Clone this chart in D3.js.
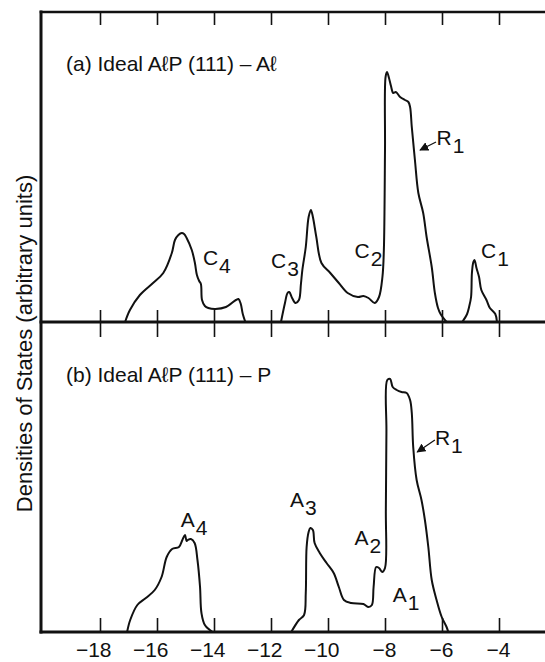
<!DOCTYPE html>
<html><head><meta charset="utf-8">
<script src="https://cdn.jsdelivr.net/npm/d3@7"></script>
<style>
body{margin:0;background:#fff}
text{font-family:"Liberation Sans",Arial,Helvetica,sans-serif;fill:#111}
</style>
</head><body><svg id="c" width="545" height="662"></svg>
<script>
// ---- data ----
const energyTicks = [-18, -16, -14, -12, -10, -8, -6, -4];
const tickLabels = ["\u221218", "\u221216", "\u221214", "\u221212", "\u221210", "\u22128", "\u22126", "\u22124"];

// Panel (a): Al-projected DOS, [energy (eV), DOS (arb.)]
const alC4 = [[-17.12,0],[-16.95,12],[-16.60,27],[-16.14,39],[-15.78,49],[-15.48,69],[-15.37,82],[-15.25,87],[-15.13,89],[-15.05,88],[-14.96,84],[-14.78,72],[-14.67,59],[-14.60,47],[-14.52,41],[-14.46,38],[-14.42,22],[-14.32,16],[-14.20,14],[-13.95,13],[-13.58,15],[-13.23,22],[-13.14,23],[-13.06,18],[-12.99,8],[-12.90,0]];
const alC3R1 = [[-11.65,0],[-11.51,19],[-11.42,29],[-11.36,30],[-11.26,24],[-11.14,19],[-11.02,22],[-10.95,38],[-10.90,52],[-10.78,75],[-10.68,105],[-10.60,112],[-10.53,105],[-10.41,85],[-10.23,59],[-9.92,49],[-9.62,39],[-9.31,29],[-8.95,25],[-8.76,26],[-8.58,24],[-8.36,19],[-8.21,25],[-8.09,45],[-8.04,72],[-8.00,172],[-7.98,245],[-7.93,250],[-7.86,244],[-7.79,236],[-7.71,229],[-7.62,230],[-7.47,225],[-7.30,222],[-7.18,220],[-7.12,215],[-7.06,195],[-6.95,162],[-6.83,129],[-6.66,109],[-6.54,85],[-6.36,55],[-6.25,29],[-6.14,14],[-6.05,8],[-5.84,0]];
const alC1 = [[-5.29,0],[-5.12,8],[-5.05,15],[-4.98,25],[-4.95,49],[-4.90,60],[-4.86,62],[-4.79,54],[-4.70,45],[-4.62,32],[-4.44,22],[-4.32,14],[-4.13,8],[-4.07,0]];

// Panel (b): P-projected DOS
const pA4 = [[-17.05,0],[-16.94,12],[-16.69,27],[-16.39,34],[-16.08,42],[-15.84,55],[-15.66,75],[-15.47,83],[-15.23,85],[-15.11,92],[-15.02,97],[-14.96,91],[-14.92,92],[-14.81,93],[-14.68,89],[-14.58,72],[-14.49,45],[-14.44,19],[-14.32,7],[-14.05,0]];
const pA3R1 = [[-11.29,0],[-11.02,12],[-10.84,17],[-10.78,39],[-10.75,85],[-10.68,100],[-10.62,104],[-10.53,102],[-10.47,89],[-10.29,79],[-10.05,69],[-9.80,59],[-9.62,45],[-9.44,32],[-9.19,29],[-8.76,28],[-8.58,25],[-8.46,27],[-8.40,45],[-8.31,65],[-8.21,64],[-8.10,60],[-8.00,64],[-7.97,122],[-7.95,200],[-7.92,252],[-7.82,253],[-7.73,245],[-7.59,242],[-7.42,240],[-7.24,239],[-7.12,232],[-7.06,219],[-7.01,185],[-6.89,152],[-6.72,132],[-6.60,112],[-6.48,85],[-6.36,52],[-6.19,32],[-6.01,15],[-5.84,5],[-5.78,0]];

const seriesA = [alC4, alC3R1, alC1];
const seriesB = [pA4, pA3R1];

const labelsA = [["C","4",-14.39,57],["C","3",-12.0,54],["C","2",-9.07,64],["C","1",-4.63,64],["R","1",-6.19,177]];
const labelsB = [["A","4",-15.17,105],["A","3",-11.33,125],["A","2",-9.07,87],["A","1",-7.73,30],["R","1",-6.25,187]];
const arrowsA = [[[-6.21,180],[-6.77,172]]];
const arrowsB = [[[-6.25,192],[-6.87,180]]];

const titleA = "(a) Ideal A\u2113P (111) \u2013 A\u2113";
const titleB = "(b) Ideal A\u2113P (111) \u2013 P";
const yTitle = "Densities of States (arbitrary units)";

// ---- layout ----
const fr = {left:41, top:12, mid:322, bottom:632, right:545};
const svg = d3.select("#c");
const x = d3.scaleLinear().domain([-18,-4]).range([100,499]);
const yA = d3.scaleLinear().domain([0,310]).range([fr.mid, fr.top]);
const yB = d3.scaleLinear().domain([0,310]).range([fr.bottom, fr.mid]);
const ink = "#111";

svg.append("rect").attr("width",545).attr("height",662).attr("fill","#fff");

const defs = svg.append("defs");
defs.append("marker").attr("id","ah").attr("viewBox","0 0 10 10").attr("refX",9).attr("refY",5)
  .attr("markerWidth",7).attr("markerHeight",7).attr("orient","auto")
  .append("path").attr("d","M0,0 L10,5 L0,10 z").attr("fill",ink);

function styleAxis(g){
  g.select(".domain").remove();
  g.selectAll(".tick line").attr("stroke",ink).attr("stroke-width",1.6);
}
// ticks
svg.append("g").attr("transform",`translate(0,${fr.top})`)
  .call(d3.axisBottom(x).tickValues(energyTicks).tickSize(13).tickFormat("")).call(styleAxis);
svg.append("g").attr("transform",`translate(0,${fr.mid})`)
  .call(d3.axisTop(x).tickValues(energyTicks).tickSize(12).tickFormat("")).call(styleAxis);
svg.append("g").attr("transform",`translate(0,${fr.mid})`)
  .call(d3.axisBottom(x).tickValues(energyTicks).tickSize(15).tickFormat("")).call(styleAxis);
svg.append("g").attr("transform",`translate(0,${fr.bottom})`)
  .call(d3.axisTop(x).tickValues(energyTicks).tickSize(14).tickFormat("")).call(styleAxis);
const lab = svg.append("g").attr("transform",`translate(0,${fr.bottom})`)
  .call(d3.axisBottom(x).tickValues(energyTicks).tickSize(0).tickPadding(10).tickFormat((d,i)=>tickLabels[i]));
lab.select(".domain").remove();
lab.selectAll("text").attr("font-size",21).attr("font-family",null).attr("text-anchor","end").attr("dx",11).attr("fill",ink);

// frame
const fl = svg.append("g").attr("stroke",ink).attr("stroke-linecap","square");
fl.append("line").attr("x1",fr.left).attr("x2",fr.right).attr("y1",fr.top).attr("y2",fr.top).attr("stroke-width",2.6);
fl.append("line").attr("x1",fr.left).attr("x2",fr.right).attr("y1",fr.mid).attr("y2",fr.mid).attr("stroke-width",3);
fl.append("line").attr("x1",fr.left).attr("x2",fr.right).attr("y1",fr.bottom).attr("y2",fr.bottom).attr("stroke-width",3);
fl.append("line").attr("x1",fr.left).attr("x2",fr.left).attr("y1",fr.top).attr("y2",fr.bottom).attr("stroke-width",3);

// curves
function drawPanel(series, y, labels, arrows){
  const line = d3.line().x(d=>x(d[0])).y(d=>y(d[1])).curve(d3.curveCatmullRom.alpha(0.5));
  svg.append("g").selectAll("path").data(series).join("path")
    .attr("d",line).attr("fill","none").attr("stroke",ink).attr("stroke-width",2).attr("stroke-linejoin","round");
  const t = svg.append("g").selectAll("text").data(labels).join("text")
    .attr("x",d=>x(d[2])).attr("y",d=>y(d[3])).attr("font-size",21);
  t.append("tspan").text(d=>d[0]);
  t.append("tspan").attr("dy",8).attr("dx",1).text(d=>d[1]);
  svg.append("g").selectAll("line").data(arrows).join("line")
    .attr("x1",d=>x(d[0][0])).attr("y1",d=>y(d[0][1]))
    .attr("x2",d=>x(d[1][0])).attr("y2",d=>y(d[1][1]))
    .attr("stroke",ink).attr("stroke-width",1.3).attr("marker-end","url(#ah)");
}
drawPanel(seriesA, yA, labelsA, arrowsA);
drawPanel(seriesB, yB, labelsB, arrowsB);

// titles
svg.append("text").attr("x",66).attr("y",71).attr("font-size",21).text(titleA);
svg.append("text").attr("x",66).attr("y",382).attr("font-size",21).text(titleB);
svg.append("text").attr("transform",`translate(32,${(170+517)/2}) rotate(-90)`)
  .attr("text-anchor","middle").attr("font-size",22).text(yTitle);
</script>
</body></html>
